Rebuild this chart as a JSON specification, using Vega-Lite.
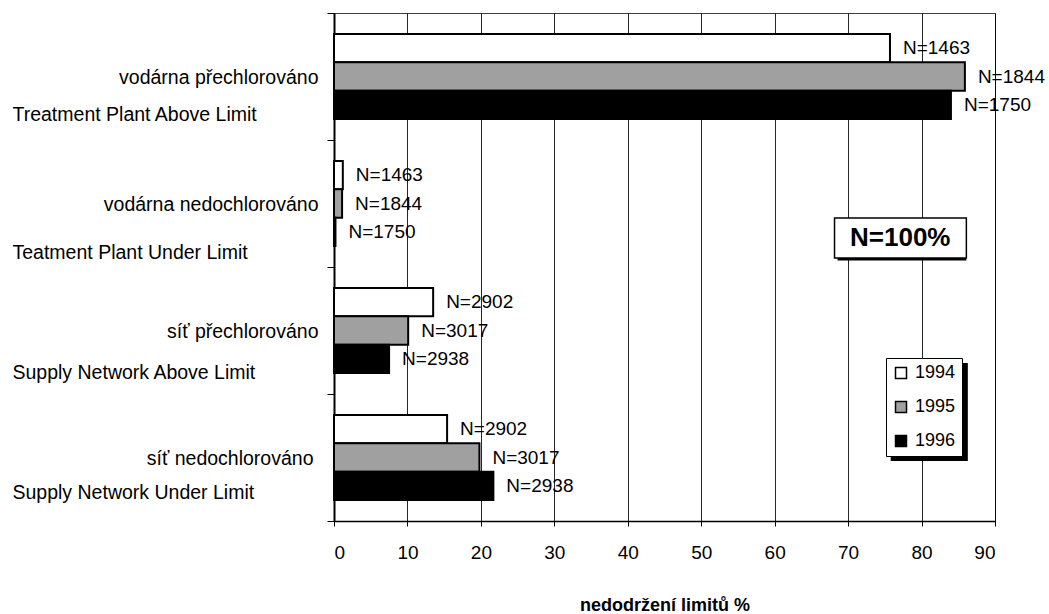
{
  "$schema": "https://vega.github.io/schema/vega-lite/v6.json",
  "width": 661,
  "height": 508,
  "autosize": {"type": "none"},
  "padding": {"left": 334, "top": 13, "right": 54, "bottom": 93},
  "background": "white",
  "config": {
    "font": "Liberation Sans",
    "view": {"stroke": "#404040", "strokeWidth": 1},
    "axis": {"labelFont": "Liberation Sans", "titleFont": "Liberation Sans", "labelColor": "black", "titleColor": "black", "labelLimit": 0}
  },
  "datasets": {
    "bars": [
      {"cat": "vodárna přechlorováno", "year": "1994", "value": 75.7, "n": "N=1463"},
      {"cat": "vodárna přechlorováno", "year": "1995", "value": 85.9, "n": "N=1844"},
      {"cat": "vodárna přechlorováno", "year": "1996", "value": 84.0, "n": "N=1750"},
      {"cat": "vodárna nedochlorováno", "year": "1994", "value": 1.2, "n": "N=1463"},
      {"cat": "vodárna nedochlorováno", "year": "1995", "value": 1.1, "n": "N=1844"},
      {"cat": "vodárna nedochlorováno", "year": "1996", "value": 0.2, "n": "N=1750"},
      {"cat": "síť přechlorováno", "year": "1994", "value": 13.5, "n": "N=2902"},
      {"cat": "síť přechlorováno", "year": "1995", "value": 10.1, "n": "N=3017"},
      {"cat": "síť přechlorováno", "year": "1996", "value": 7.5, "n": "N=2938"},
      {"cat": "síť nedochlorováno", "year": "1994", "value": 15.4, "n": "N=2902"},
      {"cat": "síť nedochlorováno", "year": "1995", "value": 19.8, "n": "N=3017"},
      {"cat": "síť nedochlorováno", "year": "1996", "value": 21.7, "n": "N=2938"}
    ],
    "box": [
      {"cat": "vodárna nedochlorováno", "value": 68.15, "value2": 86.1, "mid": 77.1, "label": "N=100%"}
    ],
    "legendshadow": [
      {"cat": "síť nedochlorováno", "value": 75.8, "value2": 86.3}
    ]
  },
  "resolve": {"axis": {"y": "independent"}},
  "layer": [
    {
      "data": {"name": "bars"},
      "mark": {"type": "bar", "stroke": "black", "strokeWidth": 2},
      "encoding": {
        "x": {
          "field": "value", "type": "quantitative",
          "scale": {"domain": [0, 90], "nice": false, "zero": true},
          "axis": {
            "values": [0, 10, 20, 30, 40, 50, 60, 70, 80, 90],
            "grid": true, "gridColor": "black", "gridWidth": 1, "gridOpacity": 0.85,
            "domainColor": "black", "domainWidth": 1.5,
            "tickColor": "black", "tickSize": 5,
            "labelFontSize": 19, "labelPadding": 17,
            "title": "nedodržení limitů %", "titleFontSize": 18, "titleFontWeight": "bold", "titlePadding": 34
          }
        },
        "y": {
          "field": "cat", "type": "nominal",
          "sort": ["vodárna přechlorováno", "vodárna nedochlorováno", "síť přechlorováno", "síť nedochlorováno"],
          "scale": {"paddingInner": 0, "paddingOuter": 0},
          "axis": {
            "title": null, "grid": false,
            "domainColor": "black", "domainWidth": 2,
            "tickColor": "black", "tickSize": 7, "tickBand": "extent",
            "labelFontSize": 19.5, "labelOffset": 1, "labelLimit": 0,
            "labelPadding": {"condition": {"test": "datum.value == 'síť nedochlorováno'", "value": 14}, "value": 9}
          }
        },
        "yOffset": {
          "field": "year", "type": "nominal",
          "scale": {"paddingInner": 0, "paddingOuter": 0.745}
        },
        "color": {
          "field": "year", "type": "nominal",
          "scale": {"domain": ["1994", "1995", "1996"], "range": ["white", "#a0a0a0", "black"]},
          "legend": {
            "title": null, "orient": "none", "legendX": 552, "legendY": 345,
            "symbolType": "square", "symbolSize": 121,
            "symbolStrokeColor": "black", "symbolStrokeWidth": 1.5,
            "labelFontSize": 18, "labelFont": "Liberation Sans", "labelColor": "black", "labelOffset": 5,
            "fillColor": "white", "strokeColor": "black",
            "padding": 6, "rowPadding": 16
          }
        }
      }
    },
    {
      "data": {"name": "bars"},
      "mark": {"type": "text", "align": "left", "baseline": "middle", "dx": 13, "fontSize": 19, "font": "Liberation Sans", "color": "black"},
      "encoding": {
        "x": {"field": "value", "type": "quantitative"},
        "y": {
          "field": "cat", "type": "nominal",
          "sort": ["vodárna přechlorováno", "vodárna nedochlorováno", "síť přechlorováno", "síť nedochlorováno"],
          "axis": {
            "orient": "left", "title": null, "domain": false, "ticks": false, "tickSize": 0, "grid": false,
            "labelAlign": "left", "labelPadding": 322, "labelFontSize": 19.5, "labelLimit": 0,
            "labelOffset": {"condition": [
              {"test": "datum.value == 'vodárna přechlorováno'", "value": 38},
              {"test": "datum.value == 'vodárna nedochlorováno'", "value": 49},
              {"test": "datum.value == 'síť přechlorováno'", "value": 42}
            ], "value": 35},
            "labelExpr": "datum.value == 'vodárna přechlorováno' ? 'Treatment Plant Above Limit' : datum.value == 'vodárna nedochlorováno' ? 'Teatment Plant Under Limit' : datum.value == 'síť přechlorováno' ? 'Supply Network Above Limit' : 'Supply Network Under Limit'"
          }
        },
        "yOffset": {"field": "year", "type": "nominal"},
        "text": {"field": "n"}
      }
    },
    {
      "data": {"name": "box"},
      "mark": {"type": "bar", "height": 40, "yOffset": 37, "xOffset": 3, "color": "black"},
      "encoding": {
        "x": {"field": "value", "type": "quantitative"},
        "x2": {"field": "value2"},
        "y": {"field": "cat", "type": "nominal", "axis": null,
              "sort": ["vodárna přechlorováno", "vodárna nedochlorováno", "síť přechlorováno", "síť nedochlorováno"]}
      }
    },
    {
      "data": {"name": "box"},
      "mark": {"type": "bar", "height": 40, "yOffset": 34.5, "fill": "white", "stroke": "black", "strokeWidth": 1.5},
      "encoding": {
        "x": {"field": "value", "type": "quantitative"},
        "x2": {"field": "value2"},
        "y": {"field": "cat", "type": "nominal", "axis": null,
              "sort": ["vodárna přechlorováno", "vodárna nedochlorováno", "síť přechlorováno", "síť nedochlorováno"]}
      }
    },
    {
      "data": {"name": "box"},
      "mark": {"type": "text", "fontSize": 26, "fontWeight": "bold", "yOffset": 34.5, "align": "center", "baseline": "middle", "font": "Liberation Sans", "color": "black"},
      "encoding": {
        "x": {"field": "mid", "type": "quantitative"},
        "y": {"field": "cat", "type": "nominal", "axis": null,
              "sort": ["vodárna přechlorováno", "vodárna nedochlorováno", "síť přechlorováno", "síť nedochlorováno"]},
        "text": {"field": "label"}
      }
    },
    {
      "data": {"name": "legendshadow"},
      "mark": {"type": "bar", "height": 98, "yOffset": -45.5, "color": "black"},
      "encoding": {
        "x": {"field": "value", "type": "quantitative"},
        "x2": {"field": "value2"},
        "y": {"field": "cat", "type": "nominal", "axis": null,
              "sort": ["vodárna přechlorováno", "vodárna nedochlorováno", "síť přechlorováno", "síť nedochlorováno"]}
      }
    }
  ]
}
